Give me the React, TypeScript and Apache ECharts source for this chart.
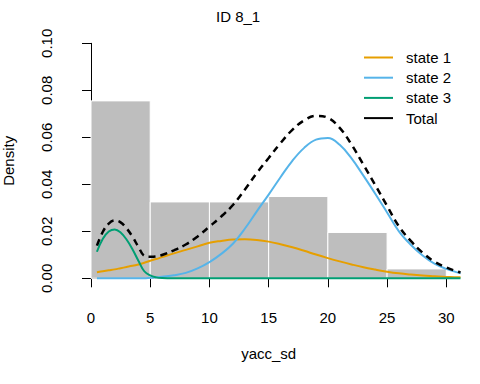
import React, { useEffect, useRef } from "react";
import * as echarts from "echarts";

const histBreaks = [0, 5, 10, 15, 20, 25, 30];
const histDensity = [0.0755, 0.0325, 0.0325, 0.0348, 0.0195, 0.004];

const xs = [0.5, 1, 1.5, 2, 2.5, 3, 3.5, 4, 4.5, 5, 5.5, 6, 7, 8, 9, 10, 11, 12, 13, 14, 15, 16, 17, 18, 19, 20, 21, 22, 23, 24, 25, 26, 27, 28, 29, 30, 31, 31.2];

const state1 = [0.0026, 0.003, 0.0034, 0.0038, 0.0043, 0.0048, 0.0053, 0.0059, 0.0066, 0.0075, 0.0082, 0.009, 0.0106, 0.0121, 0.0136, 0.0151, 0.0159, 0.0165, 0.0166, 0.0163, 0.0156, 0.0145, 0.0132, 0.0117, 0.0101, 0.0086, 0.0072, 0.0059, 0.0047, 0.0037, 0.0028, 0.0021, 0.0016, 0.0012, 0.0009, 0.0006, 0.0004, 0.0004];

const state2 = [0, 0, 0, 0, 0, 0, 0, 0, 0, 0.0002, 0.0004, 0.0007, 0.0013, 0.0023, 0.0042, 0.0069, 0.0104, 0.0148, 0.0212, 0.0285, 0.0356, 0.043, 0.05, 0.0555, 0.059, 0.0597, 0.0568, 0.051, 0.0437, 0.036, 0.028, 0.02, 0.0143, 0.0097, 0.0062, 0.004, 0.0024, 0.0021];

const state3 = [0.0113, 0.0168, 0.0199, 0.0208, 0.0195, 0.0165, 0.0124, 0.0075, 0.003, 0.0012, 0.0004, 0.0001, 0, 0, 0, 0, 0, 0, 0, 0, 0, 0, 0, 0, 0, 0, 0, 0, 0, 0, 0, 0, 0, 0, 0, 0, 0, 0];

const total = [0.0139, 0.0198, 0.0233, 0.0246, 0.0238, 0.0213, 0.0177, 0.0134, 0.0096, 0.0092, 0.0093, 0.0099, 0.0119, 0.0144, 0.0178, 0.022, 0.0263, 0.0313, 0.0378, 0.0448, 0.0512, 0.0575, 0.0632, 0.0672, 0.0691, 0.0683, 0.064, 0.0569, 0.0484, 0.0397, 0.0308, 0.0221, 0.0159, 0.0109, 0.0071, 0.0046, 0.0028, 0.0025];

const seriesNames = ["state 1", "state 2", "state 3", "Total"];
const seriesColors = ["#E69F00", "#56B4E9", "#009E73", "#000000"];
const xTicks = { min: 0, max: 30, interval: 5 };
const yTicks = { min: 0, max: 0.1, interval: 0.02 };
const curveXMax = 31.2;

const FONT = "Liberation Sans, Arial, sans-serif";

export default function App() {
  const ref = useRef<HTMLDivElement>(null);
  useEffect(() => {
    if (!ref.current) return;
    const chart = echarts.init(ref.current, null, { renderer: "svg" });
    const lines = [state1, state2, state3, total];
    const histData = histDensity.map((d, i) => [histBreaks[i], histBreaks[i + 1], d]);
    const gridLeft = 91;
    const gridRight = 33.7;
    const plotW = 480 - gridLeft - gridRight;
    const pxPerUnit = plotW / (xTicks.max - xTicks.min);
    const curveRight = 480 - (gridLeft + curveXMax * pxPerUnit);
    const option: any = {
      animation: false,
      backgroundColor: "#ffffff",
      textStyle: { fontFamily: FONT },
      title: {
        text: "ID 8_1",
        left: 216,
        top: 9,
        padding: 0,
        textStyle: { fontSize: 15, fontWeight: "normal", color: "#000", fontFamily: FONT },
      },
      legend: {
        orient: "vertical",
        left: 363,
        top: 50,
        padding: 0,
        itemWidth: 29,
        itemHeight: 14,
        itemGap: 5.2,
        textStyle: { fontSize: 15, color: "#000", fontFamily: FONT, padding: [0, 0, 0, 8] },
        data: seriesNames.map((n, i) => ({
          name: n,
          itemStyle: { opacity: 0 },
          lineStyle: { type: "solid", width: 2, color: seriesColors[i] },
        })),
      },
      grid: [
        { left: gridLeft, right: gridRight, top: 43.3, bottom: 105.7, outerBoundsMode: "none", containLabel: false },
        { left: gridLeft, right: curveRight, top: 43.3, bottom: 105.7, outerBoundsMode: "none", containLabel: false },
      ],
      xAxis: [
        {
          type: "value",
          gridIndex: 0,
          min: xTicks.min,
          max: xTicks.max,
          interval: xTicks.interval,
          offset: 9,
          name: "yacc_sd",
          nameLocation: "middle",
          nameGap: 59,
          nameTextStyle: { fontSize: 15, color: "#000", fontFamily: FONT },
          axisLine: { show: true, lineStyle: { color: "#000", width: 1 } },
          axisTick: { show: true, length: 9, lineStyle: { color: "#000", width: 1 } },
          axisLabel: { fontSize: 15, color: "#000", margin: 23, fontFamily: FONT },
          splitLine: { show: false },
        },
        {
          type: "value",
          gridIndex: 1,
          min: 0,
          max: curveXMax,
          show: false,
          splitLine: { show: false },
        },
      ],
      yAxis: [
        {
          type: "value",
          gridIndex: 0,
          min: yTicks.min,
          max: yTicks.max,
          interval: yTicks.interval,
          offset: 14.3,
          name: "Density",
          nameLocation: "middle",
          nameGap: 61,
          nameTextStyle: { fontSize: 15, color: "#000", fontFamily: FONT },
          axisLine: { show: true, lineStyle: { color: "#000", width: 1 } },
          axisTick: { show: true, length: 9, lineStyle: { color: "#000", width: 1 } },
          axisLabel: {
            fontSize: 15,
            color: "#000",
            rotate: 90,
            margin: 23,
            fontFamily: FONT,
            formatter: (v: number) => v.toFixed(2),
          },
          splitLine: { show: false },
        },
        {
          type: "value",
          gridIndex: 1,
          min: yTicks.min,
          max: yTicks.max,
          show: false,
          splitLine: { show: false },
        },
      ],
      series: [
        {
          type: "custom",
          name: "hist",
          xAxisIndex: 0,
          yAxisIndex: 0,
          data: histData,
          encode: { x: [0, 1], y: 2 },
          renderItem: (params: any, api: any) => {
            const p0 = api.coord([api.value(0), api.value(2)]);
            const p1 = api.coord([api.value(1), 0]);
            return {
              type: "rect",
              shape: { x: p0[0], y: p0[1], width: p1[0] - p0[0], height: p1[1] - p0[1] },
              style: { fill: "#BEBEBE", stroke: "#ffffff", lineWidth: 1 },
            };
          },
        },
        ...lines.map((vals, i) => ({
          type: "line",
          name: seriesNames[i],
          xAxisIndex: 1,
          yAxisIndex: 1,
          data: xs.map((x, j) => [x, vals[j]]),
          smooth: 0.4,
          symbol: "none",
          showSymbol: false,
          clip: false,
          color: seriesColors[i],
          lineStyle: {
            color: seriesColors[i],
            width: i === 3 ? 2.5 : 2,
            type: i === 3 ? [7, 5] : "solid",
          },
        })),
      ],
    };
    chart.setOption(option);
    return () => chart.dispose();
  }, []);
  return (
    <div
      ref={ref}
      style={{ position: "absolute", left: 0, top: 0, width: 480, height: 384, background: "#fff" }}
    />
  );
}
